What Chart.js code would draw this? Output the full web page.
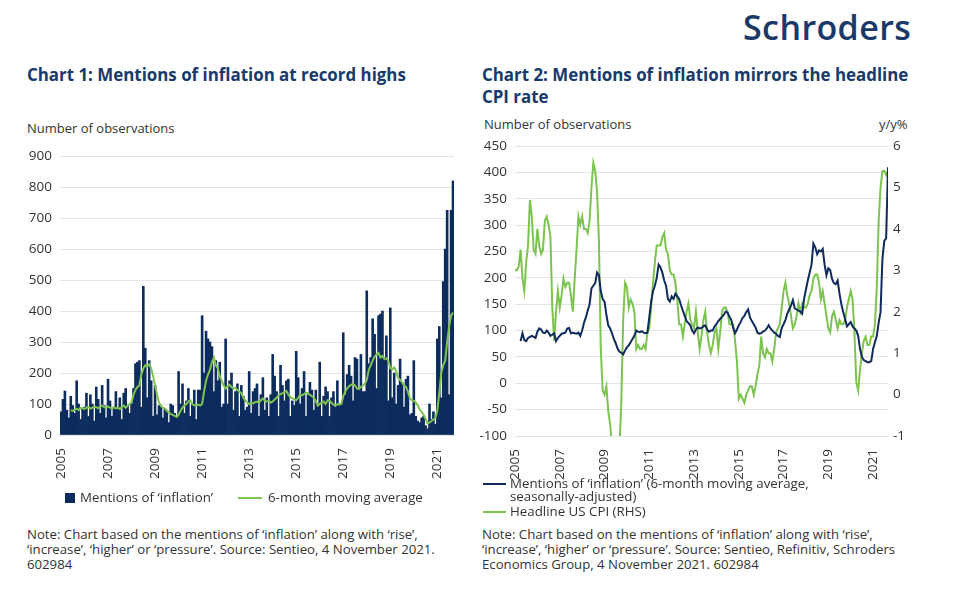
<!DOCTYPE html>
<html>
<head>
<meta charset="utf-8">
<script src="https://cdn.jsdelivr.net/npm/chart.js@4.4.0/dist/chart.umd.min.js"></script>
<style>
  html, body { margin:0; padding:0; background:#fff; }
  body { width:959px; height:597px; position:relative; overflow:hidden; font-family:"Open Sans", "Noto Sans", sans-serif; color:#333; }
  .abs { position:absolute; white-space:nowrap; }
  .logo { left:743px; top:4px; font-family:"Open Sans", sans-serif; font-weight:600; font-size:34px; letter-spacing:0.4px; color:#1b3968; }
  .title { font-family:"Liberation Sans Narrow", "Open Sans", sans-serif; font-weight:700; font-size:16.9px; color:#17396b; line-height:22px; }
  .axt { font-size:13px; color:#333; }
  .leg { font-size:13.3px; color:#333; line-height:13px; }
  .note { font-size:13.2px; color:#333; line-height:15.2px; }
  canvas { position:absolute; }
</style>
</head>
<body>
<div class="abs logo">Schroders</div>
<div class="abs title" style="left:27px; top:64px;">Chart 1: Mentions of inflation at record highs</div>
<div class="abs title" style="left:482px; top:64px;">Chart 2: Mentions of inflation mirrors the headline<br>CPI rate</div>

<div class="abs axt" style="left:27px; top:119px;">Number of observations</div>
<div class="abs axt" style="left:484px; top:115px;">Number of observations</div>
<div class="abs axt" style="left:879px; top:115px;">y/y%</div>

<canvas id="c1" width="445" height="345" style="left:20px; top:140px;"></canvas>
<canvas id="c2" width="475" height="355" style="left:470px; top:130px;"></canvas>

<!-- legend chart 1 -->
<div class="abs" style="left:65px; top:493px; width:10px; height:10px; background:#0c2c5e;"></div>
<div class="abs leg" style="left:80px; top:491px;">Mentions of ‘inflation’</div>
<div class="abs" style="left:238px; top:497px; width:24px; height:2px; background:#7cc350;"></div>
<div class="abs leg" style="left:268px; top:491px;">6-month moving average</div>

<!-- legend chart 2 -->
<div class="abs" style="left:483px; top:483px; width:23px; height:2px; background:#0e2b5c;"></div>
<div class="abs leg" style="left:510px; top:477px;">Mentions of ‘inflation’ (6-month moving average,<br>seasonally-adjusted)</div>
<div class="abs" style="left:483px; top:511px; width:23px; height:2px; background:#7cc350;"></div>
<div class="abs leg" style="left:510px; top:505px;">Headline US CPI (RHS)</div>

<div class="abs note" style="left:27px; top:527px;">Note: Chart based on the mentions of ‘inflation’ along with ‘rise’,<br>‘increase’, ‘higher’ or ‘pressure’. Source: Sentieo, 4 November 2021.<br>602984</div>
<div class="abs note" style="left:482px; top:527px;">Note: Chart based on the mentions of ‘inflation’ along with ‘rise’,<br>‘increase’, ‘higher’ or ‘pressure’. Source: Sentieo, Refinitiv, Schroders<br>Economics Group, 4 November 2021. 602984</div>

<script>
// ---------- DATA ----------
const startYear = 2005;            // monthly data from January 2005
const tickYears = [2005, 2007, 2009, 2011, 2013, 2015, 2017, 2019, 2021];

// Chart 1: monthly mentions of 'inflation' (Jan 2005 - Sep 2021)
const mentions = [
  75,115,142,80,55,125,95,70,175,100,50,85,
  90,135,60,130,100,45,155,115,70,160,95,55,
  180,110,60,90,140,85,120,50,135,150,95,70,
  100,150,230,235,240,90,480,280,120,240,175,60,
  160,65,95,90,55,85,80,40,100,95,70,60,
  205,100,165,70,110,150,60,100,145,50,145,145,
  385,200,335,310,300,285,140,240,175,235,90,100,
  310,100,175,200,80,140,165,60,160,125,80,90,
  205,70,140,150,165,60,130,185,80,120,60,130,
  260,190,140,60,225,160,110,175,180,60,110,95,
  270,185,100,150,205,60,130,170,145,80,145,100,
  235,60,125,155,140,60,120,140,90,175,100,100,
  330,130,195,225,190,110,250,245,150,260,140,140,
  465,230,250,375,325,150,385,390,400,250,320,110,
  410,120,200,100,160,245,170,90,180,190,65,70,
  240,60,45,40,55,60,30,20,100,50,75,35,
  310,350,120,495,600,725,130,725,820
];

// Chart 1: 6-month moving average
const mentionsMA = [
  null,null,null,null,null,80,78,82,85,80,88,86,
  84,88,90,85,88,92,90,86,92,95,90,88,
  92,88,85,90,86,88,84,90,95,88,95,100,
  105,130,145,155,160,195,215,225,222,228,215,190,
  160,130,105,95,88,85,78,72,68,65,62,58,
  65,78,88,95,100,108,112,100,96,95,98,95,
  100,140,175,195,210,235,250,225,215,190,175,160,
  150,158,162,155,150,152,145,140,135,120,112,105,
  100,104,102,106,108,104,112,118,110,108,110,105,
  108,115,120,128,132,135,138,142,130,122,118,115,
  112,120,130,128,132,136,135,130,125,120,110,95,
  100,105,108,100,112,110,105,98,95,100,98,100,
  125,140,150,158,162,165,160,150,148,155,160,165,
  178,210,225,240,252,260,265,250,255,245,248,240,
  215,212,218,205,185,178,170,160,155,140,118,112,
  110,105,95,82,75,65,52,38,40,45,50,55,
  80,135,200,225,240,300,350,385,395
];

// Chart 2: mentions, 6-month moving average, seasonally adjusted
const mentionsSA = [
  null,null,null,80,95,82,80,86,88,90,88,86,
  98,104,102,96,95,100,96,90,92,95,80,86,
  90,94,95,96,104,105,95,96,95,94,96,90,
  100,115,125,138,150,180,185,190,210,205,175,160,
  155,130,110,104,95,84,76,66,60,58,55,62,
  68,72,78,84,90,100,98,97,99,96,95,96,
  125,155,175,185,200,225,220,210,195,185,160,155,
  165,160,170,165,160,148,138,128,118,114,110,100,
  95,102,106,104,105,108,110,102,98,100,100,108,
  112,118,122,126,130,136,134,126,120,105,95,102,
  110,116,124,128,135,140,125,118,112,106,96,94,
  95,98,100,104,110,104,100,96,94,90,88,105,
  112,120,132,140,148,158,142,140,138,136,132,160,
  178,195,210,225,265,258,245,252,250,255,225,205,
  218,215,198,190,188,195,170,150,135,122,108,112,
  116,108,104,100,90,65,50,44,42,40,40,42,
  65,78,90,115,135,235,270,275,410
];

// Chart 2: headline US CPI, y/y %
const cpi = [
  3.0,3.0,3.1,3.5,2.8,2.5,3.2,3.6,4.7,4.3,3.5,3.4,
  4.0,3.6,3.4,3.5,4.2,4.3,4.1,3.8,2.1,1.3,2.0,2.5,
  2.1,2.4,2.8,2.6,2.7,2.7,2.4,2.0,2.8,3.5,4.3,4.1,
  4.3,4.0,4.0,3.9,4.2,5.0,5.6,5.4,4.9,3.7,1.1,0.1,
  0.0,0.2,-0.4,-0.7,-1.3,-1.4,-2.1,-1.5,-1.3,-0.2,1.8,2.7,
  2.6,2.1,2.3,2.2,2.0,1.1,1.2,1.1,1.1,1.2,1.1,1.5,
  1.6,2.1,2.7,3.2,3.6,3.6,3.6,3.8,3.9,3.5,3.4,3.0,
  2.9,2.9,2.7,2.3,1.7,1.7,1.4,1.7,2.0,2.2,1.8,1.7,
  1.6,2.0,1.5,1.1,1.4,1.8,2.0,1.5,1.2,1.0,1.2,1.5,
  1.6,1.1,1.5,2.0,2.1,2.1,2.0,1.7,1.7,1.7,1.3,0.8,
  -0.1,0.0,-0.1,-0.2,0.0,0.1,0.2,0.2,0.0,0.2,0.5,0.7,
  1.4,1.0,0.9,1.1,1.0,1.0,0.8,1.1,1.5,1.6,1.7,2.1,
  2.5,2.7,2.4,2.2,1.9,1.6,1.7,1.9,2.2,2.0,2.2,2.1,
  2.1,2.2,2.4,2.5,2.8,2.9,2.9,2.7,2.3,2.5,2.2,1.9,
  1.6,1.5,1.9,2.0,1.8,1.6,1.8,1.7,1.7,1.8,2.1,2.3,
  2.5,2.3,1.5,0.3,0.1,0.6,1.0,1.3,1.4,1.2,1.2,1.4,
  1.4,1.7,2.6,4.2,5.0,5.4,5.4,5.3,5.4
];

// ---------- HELPERS ----------
function monthLabels(n) {
  const out = [];
  for (let i = 0; i < n; i++) {
    const y = startYear + Math.floor(i / 12), m = i % 12 + 1;
    out.push(y + '-' + String(m).padStart(2, '0'));
  }
  return out;
}
const months = monthLabels(mentions.length);
function yearTick(labels) {
  return function (value, index) {
    const l = labels[index];
    if (!l) return null;
    const y = parseInt(l.slice(0, 4), 10), m = l.slice(5);
    return (m === '01' && tickYears.includes(y)) ? String(y) : null;
  };
}

const NAVY = '#0c2c5e', BLUE = '#0e2b5c', GREEN = '#7cc350';
const tickFont = { family: '"Open Sans", sans-serif', size: 13.5 };
const tickColor = '#333';
const gridColor = '#e4e4e4';

// ---------- CHART 1 ----------
new Chart(document.getElementById('c1'), {
  type: 'bar',
  data: {
    labels: months,
    datasets: [
      { type: 'line', label: '6-month moving average', data: mentionsMA,
        borderColor: GREEN, borderWidth: 2, pointRadius: 0, tension: 0, spanGaps: false },
      { type: 'bar', label: 'Mentions of ‘inflation’', data: mentions,
        backgroundColor: NAVY, borderWidth: 0, barPercentage: 1, categoryPercentage: 1 }
    ]
  },
  options: {
    responsive: false, animation: false,
    layout: { padding: { top: 11, right: 11, left: 0, bottom: 0 } },
    plugins: { legend: { display: false }, tooltip: { enabled: false } },
    scales: {
      x: {
        grid: { display: false }, border: { display: false },
        ticks: { autoSkip: false, maxRotation: 90, minRotation: 90, padding: 5,
                 font: tickFont, color: tickColor, callback: yearTick(months) },
        afterFit(s) { s.height = 50; }
      },
      y: {
        min: 0, max: 900,
        ticks: { stepSize: 100, padding: 8, font: tickFont, color: tickColor },
        grid: { color: gridColor, drawTicks: false }, border: { display: false },
        afterFit(s) { s.width = 40; }
      }
    }
  }
});

// ---------- CHART 2 ----------
const months2 = monthLabels(cpi.length);
new Chart(document.getElementById('c2'), {
  type: 'line',
  data: {
    labels: months2,
    datasets: [
      { label: 'Mentions of ‘inflation’ (6-month moving average, seasonally-adjusted)',
        data: mentionsSA, yAxisID: 'y', borderColor: BLUE, borderWidth: 2,
        pointRadius: 0, tension: 0, clip: 0 },
      { label: 'Headline US CPI (RHS)', data: cpi, yAxisID: 'y1',
        borderColor: GREEN, borderWidth: 2, pointRadius: 0, tension: 0, clip: 0 }
    ]
  },
  options: {
    responsive: false, animation: false,
    layout: { padding: { top: 15, right: 17, left: 0, bottom: 0 } },
    plugins: { legend: { display: false }, tooltip: { enabled: false } },
    scales: {
      x: {
        offset: false,
        grid: { display: false }, border: { display: false },
        ticks: { autoSkip: false, maxRotation: 90, minRotation: 90, padding: 5,
                 font: tickFont, color: tickColor, callback: yearTick(months2) },
        afterFit(s) { s.height = 49; }
      },
      y: {
        position: 'left', min: -100, max: 450,
        ticks: { stepSize: 50, padding: 8, font: tickFont, color: tickColor },
        grid: { color: gridColor, drawTicks: false }, border: { display: false },
        afterFit(s) { s.width = 45; }
      },
      y1: {
        position: 'right', min: -1, max: 6,
        ticks: { stepSize: 1, padding: 5, font: tickFont, color: tickColor },
        grid: { display: false, drawTicks: false }, border: { display: false },
        afterFit(s) { s.width = 40; }
      }
    }
  }
});
</script>
</body>
</html>
